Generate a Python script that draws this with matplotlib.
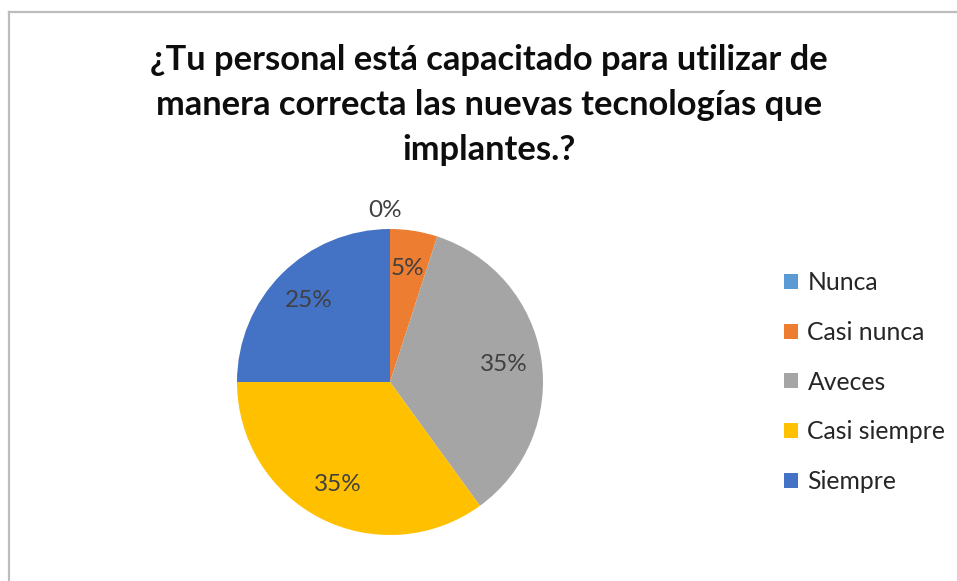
import matplotlib
matplotlib.use("Agg")
import matplotlib.pyplot as plt
from matplotlib.lines import Line2D
import numpy as np

categories = ["Nunca", "Casi nunca", "Aveces", "Casi siempre", "Siempre"]
values = [0, 5, 35, 35, 25]
colors = ["#5B9BD5", "#ED7D31", "#A5A5A5", "#FFC000", "#4472C4"]
title = "¿Tu personal está capacitado para utilizar de\nmanera correcta las nuevas tecnologías que\nimplantes.?"

plt.rcParams['font.family'] = ['Lato', 'DejaVu Sans']

W, H = 957, 581
fig = plt.figure(figsize=(W / 100, H / 100), dpi=100)
fig.patch.set_facecolor("white")

# frame lines (left and top)
fig.add_artist(Line2D([8.5 / W, 8.5 / W], [0, 1 - 11.5 / H], transform=fig.transFigure,
                      color="#BDBDBD", lw=1.6))
fig.add_artist(Line2D([8.5 / W, 1], [1 - 11.5 / H, 1 - 11.5 / H], transform=fig.transFigure,
                      color="#BDBDBD", lw=1.6))

fig.text(489 / W, 1 - 105 / H, title, ha="center", va="center", fontsize=24.8,
         fontweight="bold", color="#0D0D0D", linespacing=1.5)

cx, cy, r = 390, 382, 153
ax = fig.add_axes([(cx - r) / W, 1 - (cy + r) / H, 2 * r / W, 2 * r / H])
wedges, texts, autotexts = ax.pie(values, colors=colors, startangle=90, counterclock=False,
                                  autopct=lambda p: f"{p:.0f}%", pctdistance=0.75,
                                  wedgeprops=dict(linewidth=0),
                                  textprops=dict(fontsize=17.5, color="#404040"))
for w, t, v in zip(wedges, autotexts, values):
    if v == 0:
        ang = np.deg2rad((w.theta1 + w.theta2) / 2)
        t.set_position((1.12 * np.cos(ang) - 0.03, 1.12 * np.sin(ang)))
ax.set_xlim(-1, 1)
ax.set_ylim(-1, 1)
ax.set_aspect("equal")

leg = fig.legend(wedges, categories, loc="center left",
                 bbox_to_anchor=(784 / W, 1 - 382 / H), frameon=False,
                 fontsize=17.8, labelspacing=1.08, handlelength=0.55, handleheight=0.55,
                 handletextpad=0.4, borderaxespad=0, borderpad=0)
for t in leg.get_texts():
    t.set_color("#262626")

fig.savefig("out.png", dpi=100, facecolor="white")
